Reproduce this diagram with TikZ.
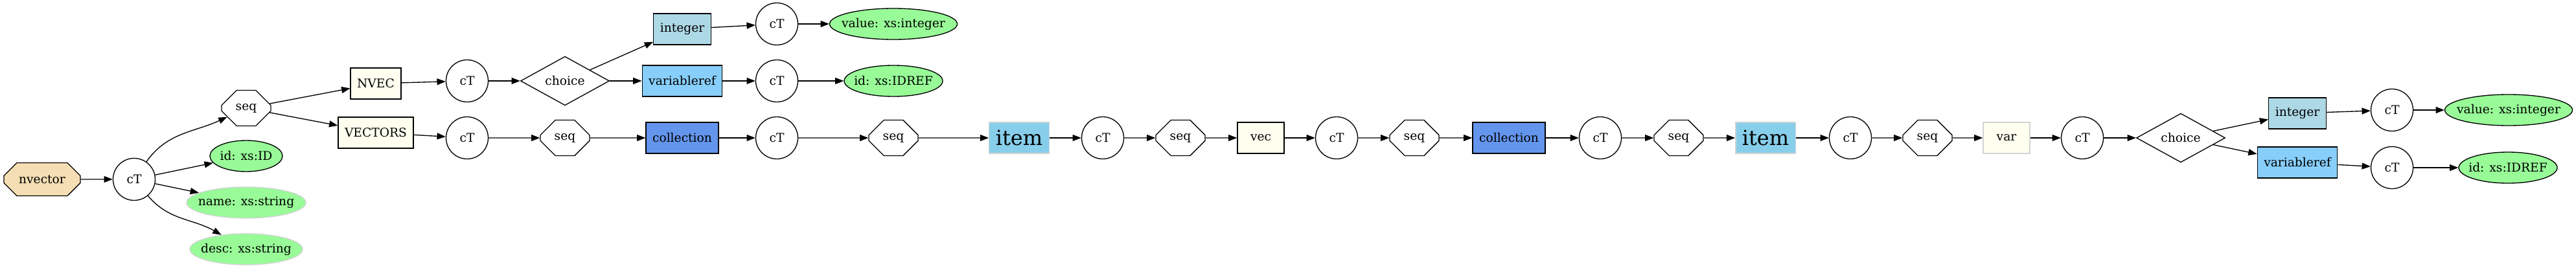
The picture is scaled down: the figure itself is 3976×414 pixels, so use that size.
\documentclass[tikz,border=0pt]{standalone}
\usepackage{fontspec}
\setmainfont{DejaVu Serif}
\usetikzlibrary{positioning,shapes.geometric,shapes.misc,arrows.meta}

\definecolor{wheat}{HTML}{F5DEB3}
\definecolor{palegreen}{HTML}{98FB98}
\definecolor{ivory}{HTML}{FFFFF0}
\definecolor{lightblue}{HTML}{ADD8E6}
\definecolor{lightskyblue}{HTML}{87CEFA}
\definecolor{cornflower}{HTML}{6495ED}
\definecolor{skyblue}{HTML}{87CEEB}
\definecolor{lightgrey}{HTML}{D3D3D3}

\tikzset{
  gvnode/.style={draw, line width=1pt, font=\fontsize{14pt}{16pt}\selectfont, inner ysep=0pt},
  ctnode/.style={gvnode, circle, minimum size=48.75pt, inner sep=0pt},
  seqnode/.style={gvnode, chamfered rectangle, chamfered rectangle xsep=13.5pt,
    chamfered rectangle ysep=20.6pt, minimum width=57pt, minimum height=41.25pt, inner sep=0pt},
  choicenode/.style={gvnode, diamond, minimum width=102.75pt, minimum height=50.25pt, inner sep=0pt},
  elemnode/.style={gvnode, rectangle, inner xsep=7.5pt, minimum width=54pt, minimum height=36pt},
  attrnode/.style={gvnode, ellipse, fill=palegreen, inner xsep=-40pt, minimum height=36pt},
  rootnode/.style={gvnode, chamfered rectangle, chamfered rectangle xsep=26.25pt,
    chamfered rectangle ysep=10.1pt, fill=wheat, minimum width=88.5pt, minimum height=38.25pt, inner sep=0pt},
  link/.style={line width=1pt, -{Triangle[length=10pt,width=7.5pt]}},
}

\begin{document}
\begin{tikzpicture}[x=0.75pt,y=0.75pt]
  \useasboundingbox (0,0) rectangle (3976,-414);
  % root and its attributes
  \node[rootnode] (nvector) at (65,-277) {nvector};
  \node[ctnode]   (ct0)     at (207,-277) {cT};
  \node[seqnode]  (seq0)    at (380,-167) {seq};
  \node[attrnode, minimum width=84pt]                    (id0)   at (380,-241) {id: xs:ID};
  \node[attrnode, minimum width=138pt, draw=lightgrey]   (name0) at (380,-313) {name: xs:string};
  \node[attrnode, minimum width=130.5pt, draw=lightgrey] (desc0) at (380,-385) {desc: xs:string};
  \node[elemnode, fill=ivory] (nvec)    at (580,-129) {NVEC};
  \node[elemnode, fill=ivory] (vectors) at (580,-205) {VECTORS};

  % NVEC branch
  \node[ctnode]     (ct1)     at (721,-125)  {cT};
  \node[choicenode] (choice1) at (872,-125)  {choice};
  \node[elemnode, fill=lightblue]    (int1)    at (1053,-45)  {integer};
  \node[elemnode, fill=lightskyblue] (varref1) at (1053,-125) {variableref};
  \node[ctnode] (ct2) at (1199,-37)  {cT};
  \node[ctnode] (ct3) at (1199,-125) {cT};
  \node[attrnode, minimum width=147.75pt] (value1) at (1379,-37)  {value: xs:integer};
  \node[attrnode, minimum width=114pt]    (idref1) at (1379,-125) {id: xs:IDREF};

  % VECTORS branch
  \node[ctnode]  (ct4)  at (721,-213)  {cT};
  \node[seqnode] (seq1) at (872,-213)  {seq};
  \node[elemnode, fill=cornflower] (coll1) at (1053,-213) {collection};
  \node[ctnode]  (ct5)  at (1199,-213) {cT};
  \node[seqnode] (seq2) at (1379,-213) {seq};
  \node[elemnode, fill=skyblue, draw=lightgrey, font=\fontsize{24pt}{28pt}\selectfont]
    (item1) at (1573,-213) {item};
  \node[ctnode]  (ct6)  at (1702,-213) {cT};
  \node[seqnode] (seq3) at (1822,-213) {seq};
  \node[elemnode, fill=ivory] (vec) at (1946,-213) {vec};
  \node[ctnode]  (ct7)  at (2063,-213) {cT};
  \node[seqnode] (seq4) at (2183,-213) {seq};
  \node[elemnode, fill=cornflower] (coll2) at (2329,-213) {collection};
  \node[ctnode]  (ct8)  at (2470,-213) {cT};
  \node[seqnode] (seq5) at (2591,-213) {seq};
  \node[elemnode, fill=skyblue, draw=lightgrey, font=\fontsize{24pt}{28pt}\selectfont]
    (item2) at (2725,-213) {item};
  \node[ctnode]  (ct9)  at (2856,-213) {cT};
  \node[seqnode] (seq6) at (2975,-213) {seq};
  \node[elemnode, fill=ivory, draw=lightgrey] (var) at (3097,-213) {var};
  \node[ctnode]     (ct10)    at (3214,-213) {cT};
  \node[choicenode] (choice2) at (3366,-213) {choice};
  \node[elemnode, fill=lightblue]    (int2)    at (3546,-175) {integer};
  \node[elemnode, fill=lightskyblue] (varref2) at (3546,-251) {variableref};
  \node[ctnode] (ct11) at (3692,-170) {cT};
  \node[ctnode] (ct12) at (3692,-259) {cT};
  \node[attrnode, minimum width=147.75pt] (value2) at (3872,-170) {value: xs:integer};
  \node[attrnode, minimum width=114pt]    (idref2) at (3871,-259) {id: xs:IDREF};

  \path[link]
    (nvector) edge (ct0)
    (ct0) edge[out=55,in=205] (seq0)
    (ct0) edge (id0)
    (ct0) edge (name0)
    (ct0) edge[out=-50,in=150] (desc0)
    (seq0) edge (nvec)
    (seq0) edge (vectors)
    (nvec) edge (ct1)
    (ct1) edge (choice1)
    (choice1) edge (int1)
    (choice1) edge (varref1)
    (int1) edge (ct2)
    (varref1) edge (ct3)
    (ct2) edge (value1)
    (ct3) edge (idref1)
    (vectors) edge (ct4)
    (ct4) edge (seq1)   (seq1) edge (coll1)   (coll1) edge (ct5)
    (ct5) edge (seq2)   (seq2) edge (item1)   (item1) edge (ct6)
    (ct6) edge (seq3)   (seq3) edge (vec)     (vec) edge (ct7)
    (ct7) edge (seq4)   (seq4) edge (coll2)   (coll2) edge (ct8)
    (ct8) edge (seq5)   (seq5) edge (item2)   (item2) edge (ct9)
    (ct9) edge (seq6)   (seq6) edge (var)     (var) edge (ct10)
    (ct10) edge (choice2)
    (choice2) edge (int2)
    (choice2) edge (varref2)
    (int2) edge (ct11)
    (varref2) edge (ct12)
    (ct11) edge (value2)
    (ct12) edge (idref2);
\end{tikzpicture}
\end{document}
